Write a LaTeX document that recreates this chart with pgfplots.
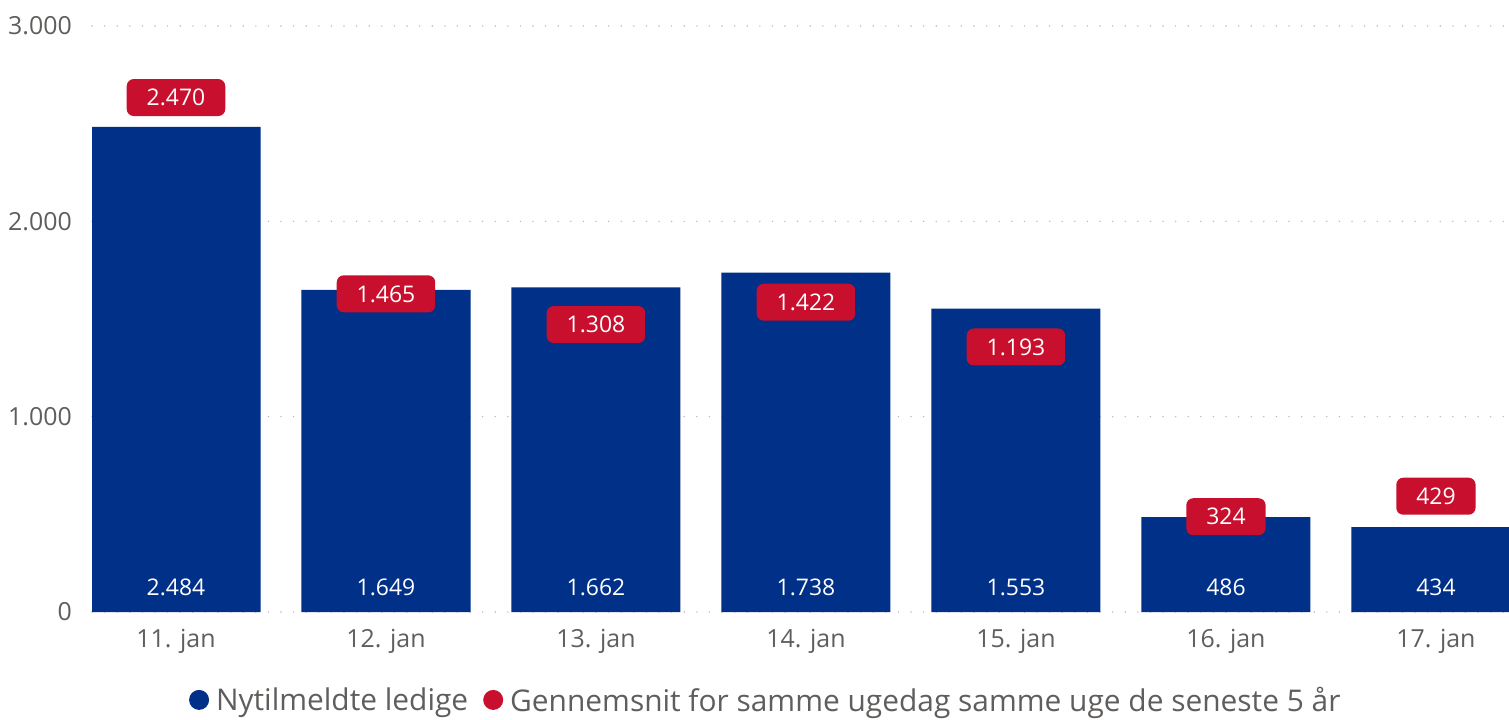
\documentclass[border=0pt]{standalone}
\usepackage{pgfplots}
\pgfplotsset{compat=1.18}
\usepackage{pgfplotstable}
\usepackage{fontspec}
\setmainfont{Open Sans}
\definecolor{barblue}{RGB}{0,48,135}
\definecolor{labred}{RGB}{200,16,46}
\definecolor{txtgray}{RGB}{96,94,92}
\definecolor{gridgray}{RGB}{185,185,185}

\pgfplotstableread{
x blue red
0 2484 2470
1 1649 1465
2 1662 1308
3 1738 1422
4 1553 1193
5 486 324
6 434 429
}\datatable

\begin{document}
\begin{tikzpicture}
\begin{axis}[
  name=ax,
  scale only axis, width=1417bp, height=586bp,
  xmin=-0.4, xmax=6.348, ymin=0, ymax=3000,
  axis line style={draw=none},
  major tick length=0pt,
  xtick={0,1,2,3,4,5,6},
  xticklabels={11. jan, 12. jan, 13. jan, 14. jan, 15. jan, 16. jan, 17. jan},
  ytick={0,1000,2000,3000},
  ymajorgrids,
  grid style={gridgray, line width=1.6bp, dash pattern=on 0pt off 12.6bp, line cap=round},
  /pgf/number format/1000 sep={.},
  /pgf/number format/assume math mode=true,
  yticklabel={\pgfmathprintnumber[assume math mode=true]{\tick}},
  ticklabel style={font=\fontsize{25}{30}\selectfont, text=txtgray, inner sep=0pt},
  yticklabel style={anchor=east, xshift=-20bp},
  xticklabel style={anchor=base, yshift=-35bp},
  legend style={draw=none, fill=none, legend columns=-1,
    at={(0.4755,-0.150)}, anchor=center, inner sep=0pt,
    font=\fontsize{30}{36}\selectfont, text=txtgray,
    nodes={inner ysep=0pt},
    /tikz/every even column/.append style={column sep=13bp}},
  legend cell align=left,
]
\addplot[ybar, bar width=0.805, bar shift=0pt, fill=barblue, draw=none,
  legend image code/.code={\fill[barblue] (10bp,0bp) circle (10bp); \path (25bp,0bp);}]
  table[x=x, y=blue]{\datatable};
\addlegendentry{Nytilmeldte ledige}

\addplot[draw=none, mark=none, forget plot, nodes near coords, point meta=explicit,
  nodes near coords style={anchor=center, yshift=25bp, text=white, inner sep=0pt,
    font=\fontsize{23}{28}\selectfont}]
  table[x=x, y expr=0, meta=blue]{\datatable};

\addplot[draw=none, mark=none, nodes near coords, point meta=explicit,
  nodes near coords style={anchor=center, yshift=32bp, fill=labred, text=white,
    rounded corners=7bp, inner xsep=20bp, inner ysep=0pt, minimum height=37bp,
    text height=16.5bp, text depth=0pt, font=\fontsize{23}{28}\selectfont},
  legend image code/.code={\fill[labred] (10bp,0bp) circle (10bp); \path (25bp,0bp);}]
  table[x=x, y=red, meta=red]{\datatable};
\addlegendentry{Gennemsnit for samme ugedag samme uge de seneste 5 år}
\end{axis}
\pgfresetboundingbox
\path[use as bounding box] ([xshift=-92bp,yshift=-107bp]ax.south west) rectangle ([yshift=26bp]ax.north east);
\end{tikzpicture}
\end{document}
